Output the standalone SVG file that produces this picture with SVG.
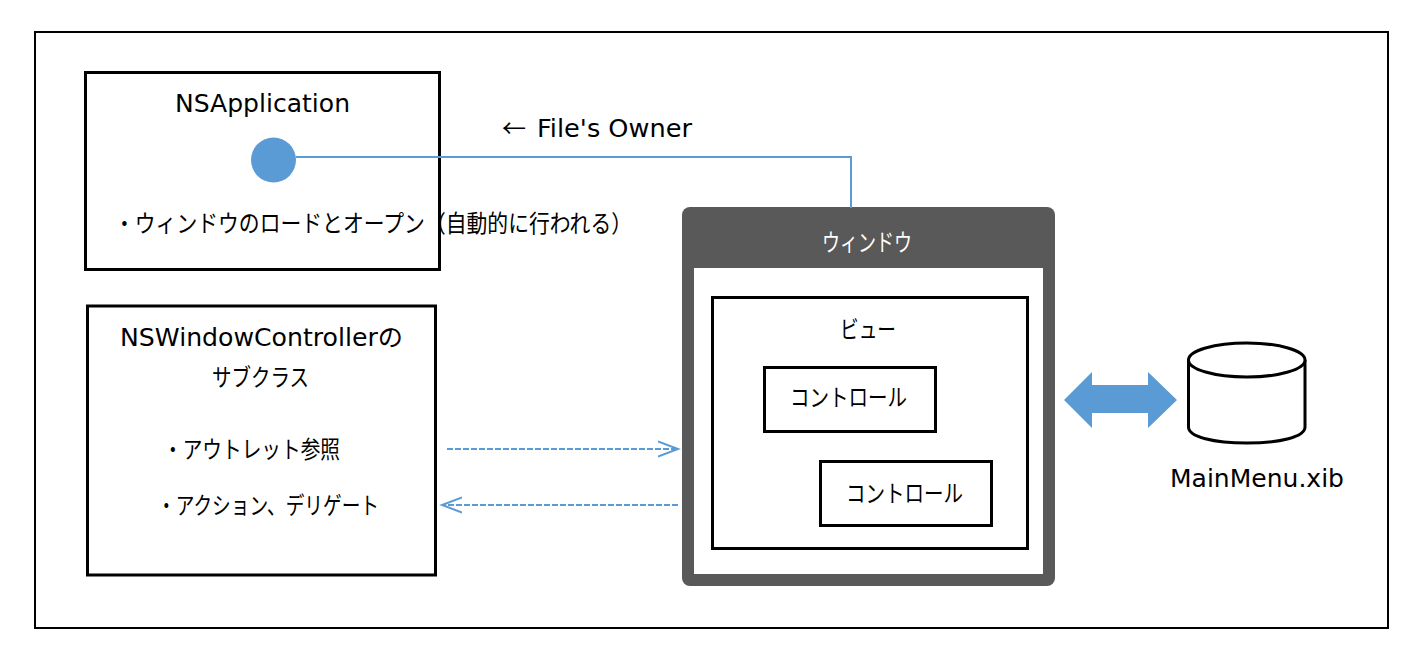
<svg xmlns="http://www.w3.org/2000/svg" width="1421" height="649" viewBox="0 0 1421 649">
<style>
text{font-family:"DejaVu Sans","Noto Sans CJK JP",sans-serif;font-size:24px;fill:#000}
.k{font-family:"Noto Sans CJK JP",sans-serif}
.b{fill:#fff;stroke:#000;stroke-width:3}
.c{fill:none;stroke:#5b9bd5;stroke-width:2}
.d{stroke-dasharray:6 2}
</style>
<defs>
<marker id="a" markerWidth="24" markerHeight="18" refX="20" refY="9" orient="auto-start-reverse" markerUnits="userSpaceOnUse"><path d="M0 1.500L20 9L0 16.500" fill="none" stroke="#5b9bd5" stroke-width="2"/></marker>
</defs>
<rect width="1421" height="649" fill="#fff"/>
<rect x="35" y="32" width="1353" height="596" fill="#fff" stroke="#000" stroke-width="2"/>
<g id="nsapplication">
<rect class="b" x="85.500" y="72.500" width="354" height="197"/>
<text x="175" y="112" textLength="175" lengthAdjust="spacingAndGlyphs">NSApplication</text>
<circle cx="273.500" cy="160" r="22.500" fill="#5b9bd5"/>
<text class="k" x="114" y="232" textLength="518" lengthAdjust="spacingAndGlyphs">・ウィンドウのロードとオープン（自動的に行われる）</text>
</g>
<text y="137"><tspan class="k" x="502">←</tspan><tspan x="537" textLength="155" lengthAdjust="spacingAndGlyphs">File's Owner</tspan></text>
<g id="controller">
<rect class="b" x="87.500" y="306" width="348" height="269"/>
<text x="120" y="346" textLength="283" lengthAdjust="spacingAndGlyphs">NSWindowControllerの</text>
<text class="k" x="212" y="386" textLength="97" lengthAdjust="spacingAndGlyphs">サブクラス</text>
<text class="k" x="163" y="458" textLength="177" lengthAdjust="spacingAndGlyphs">・アウトレット参照</text>
<text class="k" x="157" y="514" textLength="222" lengthAdjust="spacingAndGlyphs">・アクション、デリゲート</text>
</g>
<g id="window">
<rect x="682" y="207" width="373" height="379" rx="8" fill="#595959"/>
<rect x="694" y="268" width="349" height="306" fill="#fff"/>
<text class="k" x="822" y="251" textLength="90" lengthAdjust="spacingAndGlyphs" style="fill:#fff">ウィンドウ</text>
</g>
<g id="view">
<rect class="b" x="712.500" y="297.500" width="315" height="251"/>
<text class="k" x="840" y="338" textLength="56" lengthAdjust="spacingAndGlyphs">ビュー</text>
</g>
<g id="control1">
<rect class="b" x="764.500" y="367.500" width="171" height="64"/>
<text class="k" x="790" y="406" textLength="117" lengthAdjust="spacingAndGlyphs">コントロール</text>
</g>
<g id="control2">
<rect class="b" x="820.500" y="461.500" width="171" height="64"/>
<text class="k" x="846" y="502" textLength="117" lengthAdjust="spacingAndGlyphs">コントロール</text>
</g>
<g id="xib">
<path d="M1188.500 360V427C1188.500 437 1214 443 1247 443S1305 437 1305 427V360" fill="#fff" stroke="#000" stroke-width="3"/>
<ellipse cx="1246.750" cy="360" rx="58.250" ry="17" fill="#fff" stroke="#000" stroke-width="3"/>
<text x="1170" y="487" textLength="174" lengthAdjust="spacingAndGlyphs">MainMenu.xib</text>
</g>
<g id="connectors">
<path class="c" d="M296 157H851V208"/>
<path class="c d" d="M447 449H678" marker-end="url(#a)"/>
<path class="c d" d="M678 505H442" marker-end="url(#a)"/>
<path d="M1064 400L1092 372V385H1148V372L1177 400L1148 428V413H1092V428Z" fill="#5b9bd5"/>
</g>
</svg>
